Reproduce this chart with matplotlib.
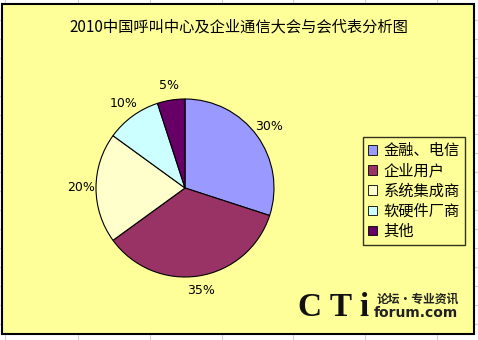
import matplotlib
matplotlib.use("Agg")
import matplotlib.pyplot as plt
import matplotlib.patches as mpatches
import numpy as np

plt.rcParams['font.family'] = ['Noto Sans CJK SC', 'DejaVu Sans']

# === DATA ===
categories = ["金融、电信", "企业用户", "系统集成商", "软硬件厂商", "其他"]
shares = [30, 35, 20, 10, 5]
pct_labels = ["30%", "35%", "20%", "10%", "5%"]
colors = ["#9999FF", "#993366", "#FFFFCC", "#CCFFFF", "#660066"]
title = "2010中国呼叫中心及企业通信大会与会代表分析图"

W, H = 478, 340
bg = "#FFFF99"

fig = plt.figure(figsize=(W / 100, H / 100), dpi=100)
fig.patch.set_facecolor("white")

# background axes in pixel coords
base = fig.add_axes([0, 0, 1, 1])
base.set_xlim(0, W)
base.set_ylim(H, 0)
base.axis("off")

# excel-like grid lines outside chart
for x in [5, 78, 150, 222, 293, 365, 437]:
    base.plot([x, x], [0, H], color="#D0D0D0", lw=0.8, zorder=0)
for y in [20, 39, 58, 77, 96, 115, 134, 153, 172, 191, 210, 229, 248, 267, 286, 305, 324]:
    base.plot([0, W], [y, y], color="#D0D0D0", lw=0.8, zorder=0)

base.add_patch(mpatches.Rectangle((2.5, 3.5), 471.5, 330.5, facecolor=bg,
                                  edgecolor="black", lw=1.5, zorder=1))

base.text(239, 27, title, ha="center", va="center", fontsize=11, color="black", zorder=2)

# watermark
base.text(298, 316, "C T i", fontsize=24, fontweight="bold", family="Liberation Serif",
          color="#111111", ha="left", va="baseline", zorder=2)
base.text(377, 303, "论坛·专业资讯", fontsize=8.5, fontweight="bold", color="#222222",
          ha="left", va="baseline", zorder=2)
base.text(374, 317, "forum.com", fontsize=10, fontweight="bold", family="DejaVu Sans",
          color="#222222", ha="left", va="baseline", zorder=2)

# pie
cx, cy, r = 185, 188, 89
pax = fig.add_axes([(cx - r) / W, (H - cy - r) / H, 2 * r / W, 2 * r / H])
wedges, texts = pax.pie(shares, colors=colors, startangle=90, counterclock=False,
                        labels=pct_labels, labeldistance=1.17,
                        wedgeprops=dict(edgecolor="black", linewidth=0.8),
                        textprops=dict(fontsize=9, family="DejaVu Sans"))
for t in texts:
    t.set_ha("center")
    t.set_va("center")
pax.set_xlim(-1, 1)
pax.set_ylim(-1, 1)
pax.set_aspect("equal")
pax.axis("off")

# legend
handles = [mpatches.Patch(facecolor=c, edgecolor="black", lw=0.6) for c in colors]
leg = fig.legend(handles, categories, loc="upper left",
                 bbox_to_anchor=(363 / W, 1 - 137 / H), fontsize=11,
                 frameon=True, fancybox=False, handlelength=0.55, handleheight=0.55,
                 handletextpad=0.45, labelspacing=0.2, borderpad=0.35,
                 borderaxespad=0)
leg.get_frame().set_edgecolor("black")
leg.get_frame().set_facecolor(bg)
leg.get_frame().set_linewidth(1.0)

fig.savefig("out.png", dpi=100, facecolor="white")
